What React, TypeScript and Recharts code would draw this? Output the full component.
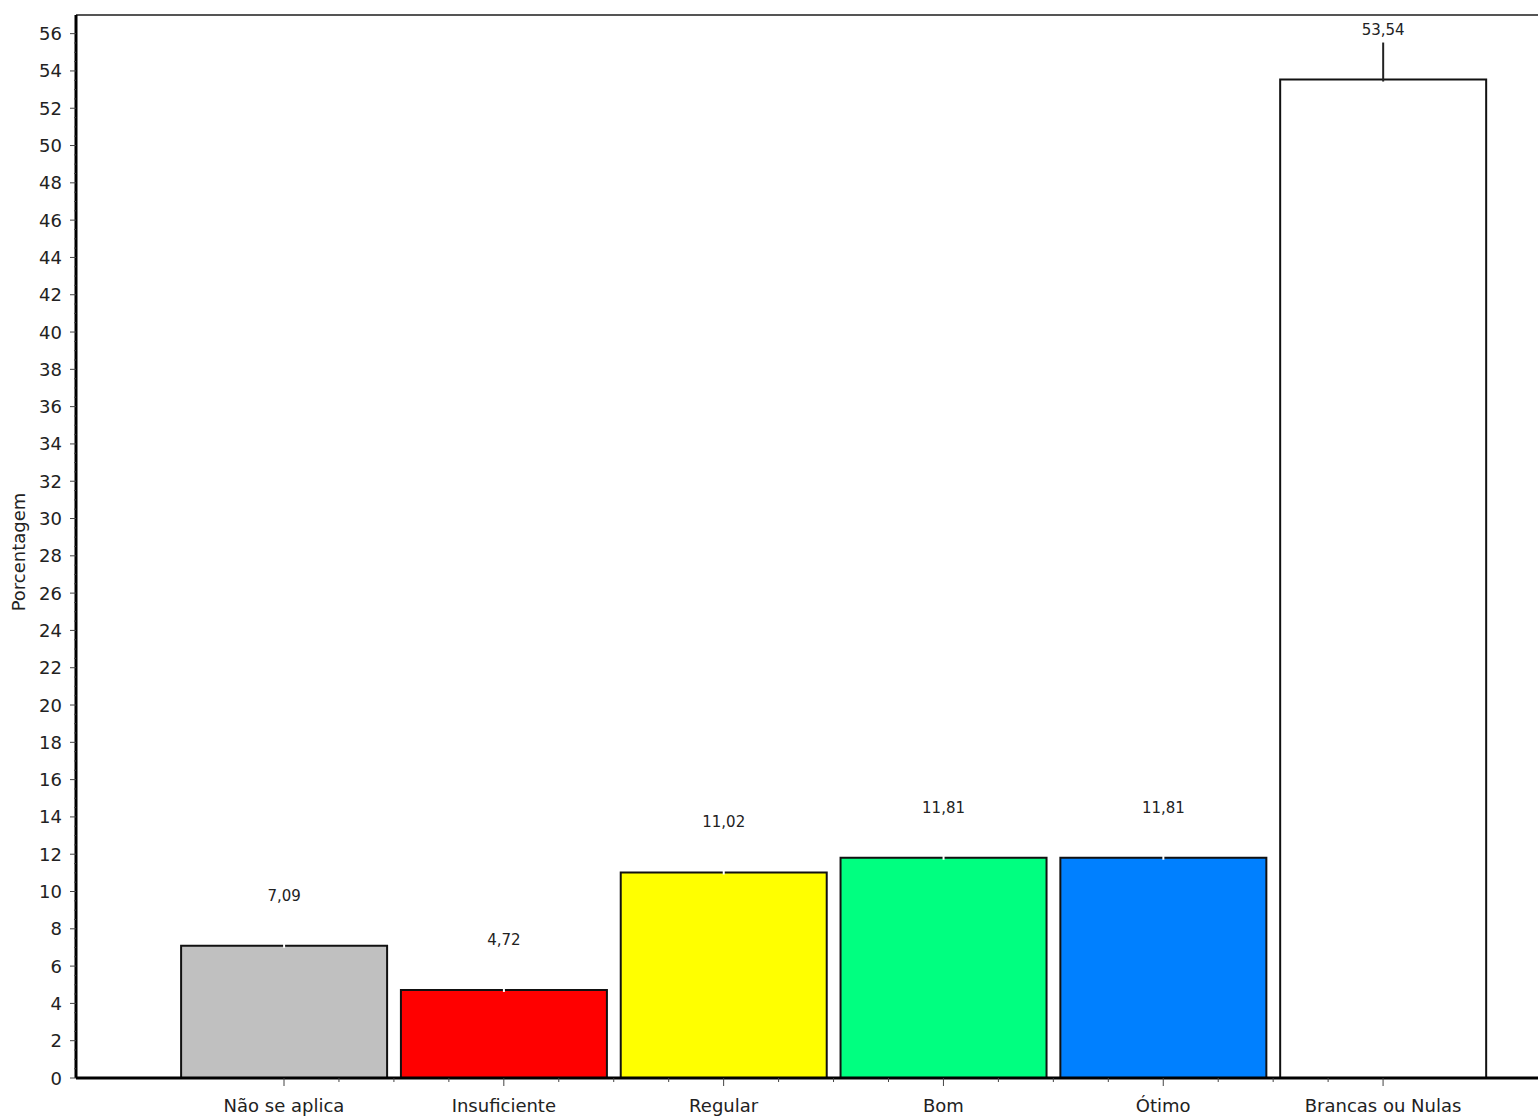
import React from "react";
import {
  BarChart,
  Bar,
  Cell,
  XAxis,
  YAxis,
  ReferenceLine,
  LabelList,
  Label,
} from "recharts";

const categories = [
  "Não se aplica",
  "Insuficiente",
  "Regular",
  "Bom",
  "Ótimo",
  "Brancas ou Nulas",
];
const percentages = [7.09, 4.72, 11.02, 11.81, 11.81, 53.54];
const barFills = ["#C0C0C0", "#FF0000", "#FFFF00", "#00FF80", "#0080FF", "#FFFFFF"];
const leaderStrokes = ["#fff", "#fff", "#fff", "#fff", "#fff", "#222"];

// y: labelled every 2, minor marks every 0.5
const yTicks: number[] = [];
for (let v = 0; v <= 56; v += 0.5) yTicks.push(v);
// x: category centres at 1..6, minor marks every quarter
const xTicks: number[] = [];
for (let v = 1; v <= 6; v += 0.25) xTicks.push(v);

const data = categories.map((name, i) => ({ pos: i + 1, name, value: percentages[i] }));

const FONT = "'DejaVu Sans', sans-serif";
const INK = "#222";

const fmt = (v: number) => v.toFixed(2).replace(".", ",");

function YTick({ x, y, payload }: any) {
  const v = payload.value as number;
  const major = v % 2 === 0;
  return (
    <g>
      <line x1={x} x2={x - (major ? 6 : 2)} y1={y} y2={y} stroke="#444" strokeWidth={1} />
      {major && (
        <text x={x - 14} y={y} textAnchor="end" dominantBaseline="central" fontSize={18} fontFamily={FONT} fill={INK}>
          {v}
        </text>
      )}
    </g>
  );
}

function XTick({ x, y, payload }: any) {
  const v = payload.value as number;
  const major = Number.isInteger(v);
  return (
    <g>
      <line x1={x} x2={x} y1={y} y2={y + (major ? 8 : 4)} stroke="#444" strokeWidth={1} />
      {major && (
        <text x={x} y={y + 27} textAnchor="middle" dominantBaseline="central" fontSize={18} fontFamily={FONT} fill={INK}>
          {categories[v - 1]}
        </text>
      )}
    </g>
  );
}

function ValueLabel({ x, y, width, value, index }: any) {
  const cx = x + width / 2;
  return (
    <g>
      <line x1={cx} x2={cx} y1={y + 2} y2={y - 37} stroke={leaderStrokes[index]} strokeWidth={2} />
      <text x={cx} y={y - 50} textAnchor="middle" dominantBaseline="central" fontSize={15} fontFamily={FONT} fill={INK}>
        {fmt(value)}
      </text>
    </g>
  );
}

export default function App() {
  return (
    <div
      style={{
        position: "fixed",
        left: 0,
        top: 0,
        width: 1538,
        height: 1117,
        overflow: "hidden",
        background: "#fff",
      }}
    >
      <BarChart
        width={1600}
        height={1117}
        data={data}
        margin={{ top: 15, right: 7, bottom: 0, left: 0 }}
      >
        <XAxis
          dataKey="pos"
          type="number"
          domain={[0.0537, 6.955]}
          ticks={xTicks}
          interval={0}
          allowDataOverflow
          height={39}
          tickSize={0}
          tickMargin={0}
          tickLine={false}
          tick={<XTick />}
          axisLine={{ stroke: "#000", strokeWidth: 3 }}
        />
        <YAxis
          type="number"
          domain={[0, 57]}
          ticks={yTicks}
          interval={0}
          allowDataOverflow
          width={76}
          tickSize={0}
          tickMargin={0}
          tickLine={false}
          tick={<YTick />}
          axisLine={{ stroke: "#000", strokeWidth: 3 }}
        >
          <Label
            content={() => (
              <text
                x={18}
                y={552}
                transform="rotate(-90 18 552)"
                textAnchor="middle"
                dominantBaseline="central"
                fontSize={18}
                fontFamily={FONT}
                fill={INK}
              >
                Porcentagem
              </text>
            )}
          />
        </YAxis>
        <ReferenceLine y={57} stroke="#555" strokeWidth={2} ifOverflow="visible" />
        <Bar dataKey="value" barSize={206} stroke="#111" strokeWidth={2} isAnimationActive={false}>
          {data.map((d, i) => (
            <Cell key={d.name} fill={barFills[i]} />
          ))}
          <LabelList dataKey="value" content={<ValueLabel />} />
        </Bar>
      </BarChart>
    </div>
  );
}
